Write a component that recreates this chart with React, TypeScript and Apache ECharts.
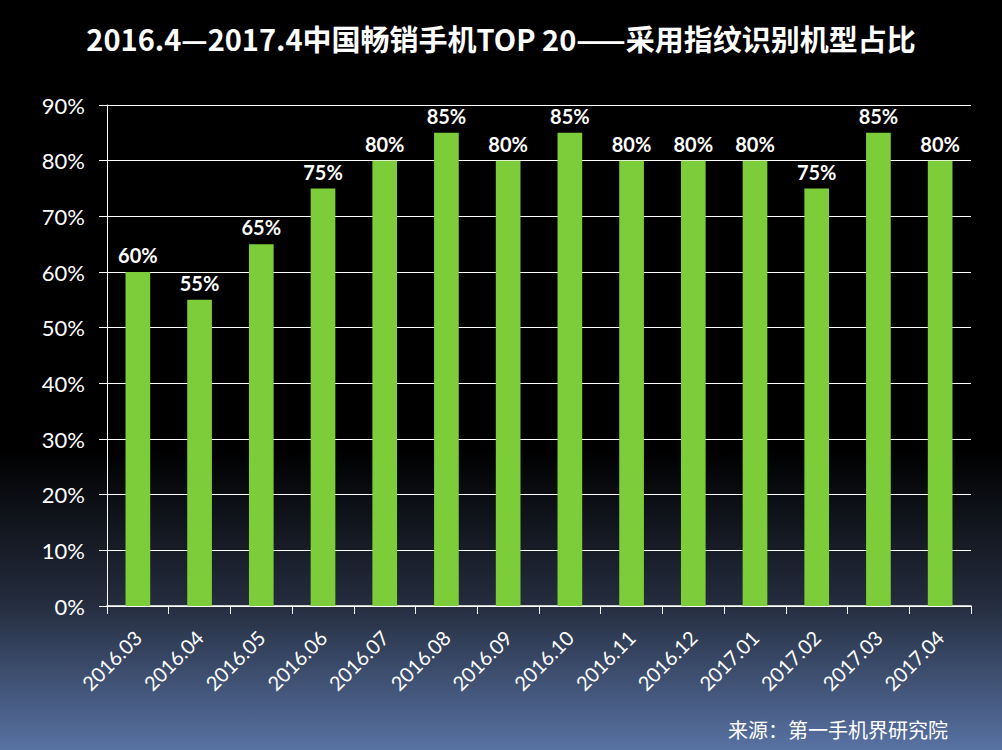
import React, { useEffect, useRef } from "react";
import * as echarts from "echarts";

const categories = [
  "2016.03", "2016.04", "2016.05", "2016.06", "2016.07", "2016.08", "2016.09",
  "2016.10", "2016.11", "2016.12", "2017.01", "2017.02", "2017.03", "2017.04",
];
const shares = [60, 55, 65, 75, 80, 85, 80, 85, 80, 80, 80, 75, 85, 80];

const TITLE = "2016.4—2017.4中国畅销手机TOP 20——采用指纹识别机型占比";
const SOURCE = "来源：第一手机界研究院";

const App: React.FC = () => {
  const chartRef = useRef<HTMLDivElement>(null);

  useEffect(() => {
    if (!chartRef.current) return undefined;
    const chart = echarts.init(chartRef.current, undefined, { renderer: "svg" });

    const options: echarts.EChartsOption = {
      animation: false,
      backgroundColor: "transparent",
      title: {
        text: TITLE,
        left: "center",
        top: 18,
        textStyle: {
          color: "#ffffff",
          fontSize: 29,
          fontWeight: "bold",
          fontFamily: "'Noto Sans CJK SC', 'Liberation Sans', sans-serif",
        },
      },
      graphic: [
        {
          type: "text",
          right: 54,
          top: 719,
          style: {
            text: SOURCE,
            fill: "#ffffff",
            fontSize: 20,
            fontFamily: "'Noto Sans CJK SC', sans-serif",
          },
        },
      ],
      grid: { left: 107, right: 31, top: 105, bottom: 144 },
      xAxis: {
        type: "category",
        data: categories,
        axisLine: { lineStyle: { color: "#ffffff", width: 1.5 } },
        axisTick: { show: true, length: 8, lineStyle: { color: "#ffffff" } },
        axisLabel: {
          rotate: 45,
          margin: 28,
          color: "#ffffff",
          fontSize: 20,
          fontFamily: "Lato, 'Open Sans', sans-serif",
        },
      },
      yAxis: {
        type: "value",
        min: 0,
        max: 90,
        interval: 10,
        axisLine: { show: true, lineStyle: { color: "#ffffff", width: 1 } },
        axisTick: { show: true, length: 8, lineStyle: { color: "#ffffff" } },
        splitLine: { lineStyle: { color: "#ffffff", width: 1 } },
        axisLabel: {
          formatter: "{value}%",
          margin: 22,
          color: "#ffffff",
          fontSize: 22,
          fontFamily: "Lato, 'Open Sans', sans-serif",
        },
      },
      series: [
        {
          type: "bar",
          data: shares,
          barWidth: "40%",
          itemStyle: { color: "#7dcd3b" },
          label: {
            show: true,
            position: "top",
            distance: 7,
            formatter: "{c}%",
            color: "#ffffff",
            fontSize: 20,
            fontWeight: "bold",
            fontFamily: "Lato, 'Open Sans', sans-serif",
          },
        },
      ],
    };
    chart.setOption(options);

    return () => {
      chart.dispose();
    };
  }, []);

  return (
    <div
      style={{
        position: "fixed",
        left: 0,
        top: 0,
        width: 1002,
        height: 750,
        background:
          "linear-gradient(to bottom, #000000 0%, #000000 60%, #232b3c 80%, #5872a3 100%)",
      }}
    >
      <div ref={chartRef} style={{ width: 1002, height: 750 }} />
    </div>
  );
};

export default App;
